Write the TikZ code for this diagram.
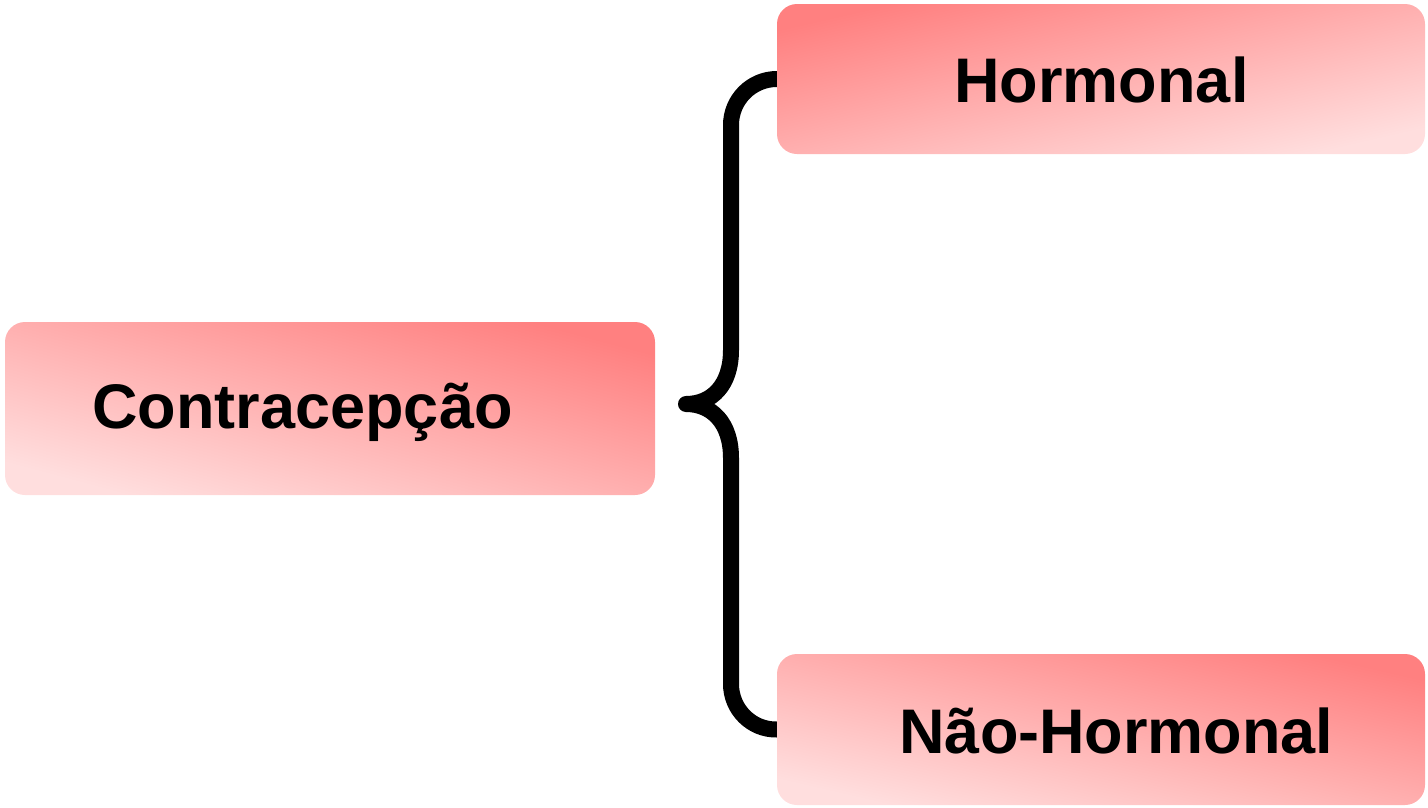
\documentclass[tikz,border=0pt]{standalone}
\usepackage{fontspec}
\setmainfont{Liberation Sans}
\pgfdeclarelayer{background}
\pgfsetlayers{background,main}
\definecolor{darkpink}{RGB}{255,128,128}
\definecolor{lightpink}{RGB}{255,222,222}
\tikzset{
  box/.style={rounded corners=20pt, inner sep=0pt, top color=darkpink, bottom color=lightpink, draw=none},
  lbl/.style={inner sep=0pt, anchor=base, font=\fontsize{63}{70}\selectfont\bfseries, text=black},
  brace/.style={line width=16pt, line cap=round, line join=round, black}
}
\begin{document}
\begin{tikzpicture}[x=1pt,y=-1pt]
\useasboundingbox (0,0) rectangle (1428,807);
% boxes
\node[box, shading angle=-15, minimum width=650pt, minimum height=173pt] (con) at (330,408.5) {};
\node[box, shading angle=13, minimum width=648pt, minimum height=150pt] (hor) at (1101,79) {};
\node[box, shading angle=-13, minimum width=648pt, minimum height=151pt] (nho) at (1101,729.5) {};
% labels
\node[lbl] (conl) at (302.5,428) {Contracepção};
\node[lbl] (horl) at (1101.5,102) {Hormonal};
\node[lbl] (nhol) at (1116.5,753) {Não-Hormonal};
% brace (behind the boxes)
\coordinate (tip) at (686,404);
\begin{pgfonlayer}{background}
\draw[brace] (hor.west) .. controls (751.6,79) and (731,99.6) .. (731,125)
  -- (731,350) .. controls (731,385) and (712,404) .. (tip)
  .. controls (712,404) and (731,423) .. (731,458)
  -- (731,684) .. controls (731,709.4) and (751.6,730) .. (nho.west);
\end{pgfonlayer}
\end{tikzpicture}
\end{document}
